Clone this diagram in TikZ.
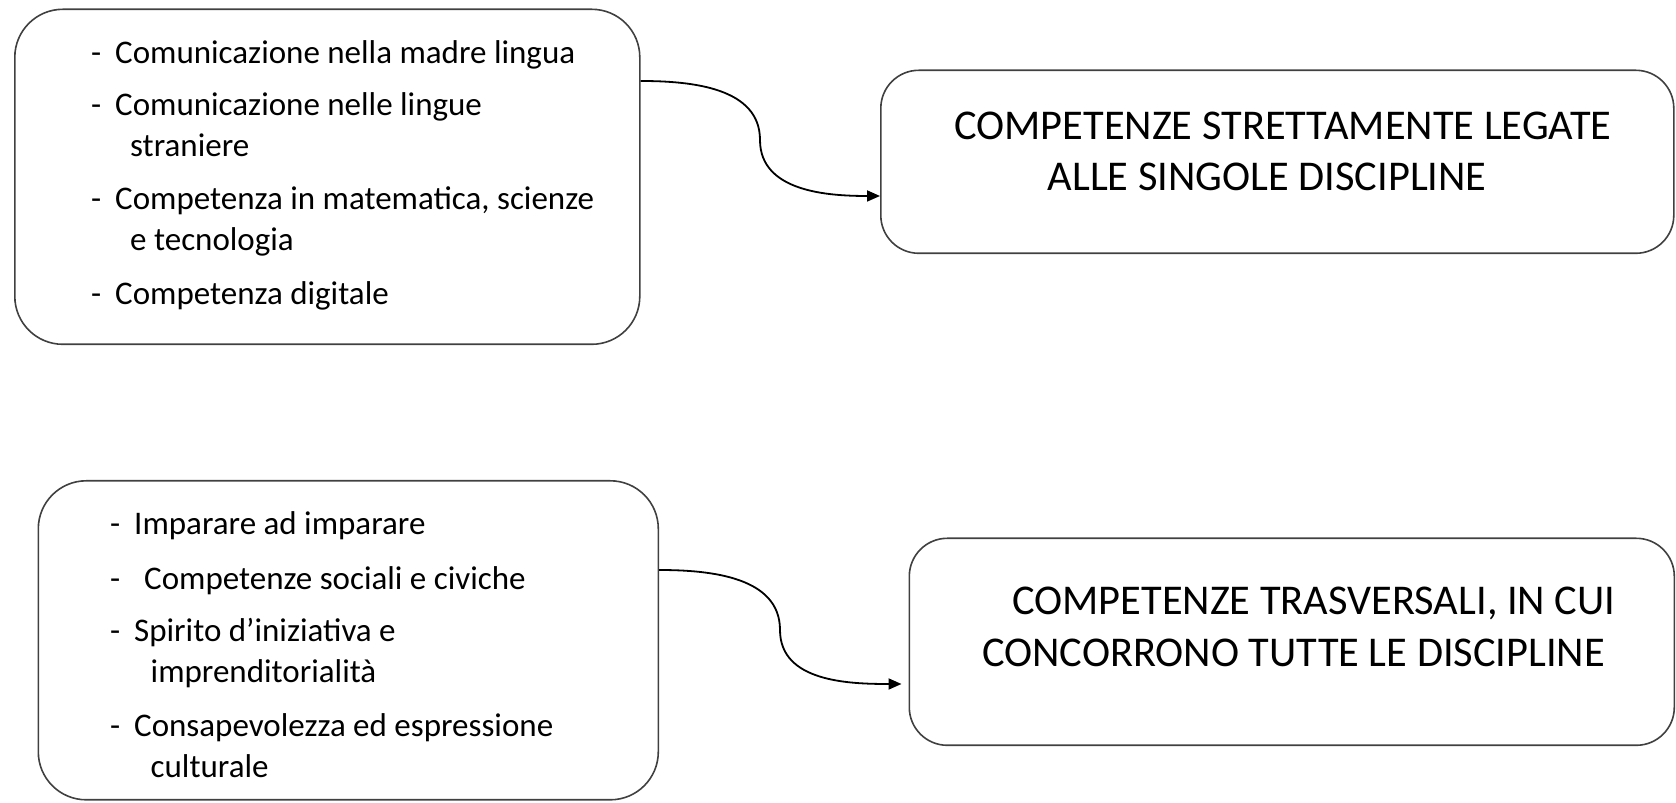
\documentclass[tikz,border=0pt]{standalone}
\usepackage{fontspec}
\setmainfont{Carlito}
\usetikzlibrary{arrows.meta}
\tikzset{
  box/.style={draw=black!75, line width=1.6pt, anchor=north west, inner sep=0pt},
  item/.style={anchor=base west, inner sep=0pt, font=\fontsize{33pt}{36pt}\selectfont},
  captext/.style={anchor=base west, inner sep=0pt, font=\fontsize{42.4pt}{46pt}\selectfont},
  arr/.style={line width=1.8pt, -{Triangle[length=13pt,width=11pt]}}
}
\newcommand{\dsh}{\makebox[24pt][l]{-}}
\begin{document}
\begin{tikzpicture}[x=1pt,y=1pt]
\useasboundingbox (0,0) rectangle (1676,803);
% boxes
\node[box, rounded corners=48pt, minimum width=625pt, minimum height=335pt] (b1) at (14,794.5) {};
\node[box, rounded corners=38pt, minimum width=793pt, minimum height=183pt] (b2) at (880,733.5) {};
\node[box, rounded corners=48pt, minimum width=620pt, minimum height=319pt] (b3) at (37.5,323) {};
\node[box, rounded corners=38pt, minimum width=765pt, minimum height=207pt] (b4) at (908.5,265.5) {};
% box 1 text
\node[item] (t11) at (91,739.5) {\dsh Comunicazione nella madre lingua};
\node[item] (t12) at (91,687) {\dsh Comunicazione nelle lingue};
\node[item] (t13) at (130,646.5) {straniere};
\node[item] (t14) at (91,593) {\dsh Competenza in matematica, scienze};
\node[item] (t15) at (130,552.5) {e tecnologia};
\node[item] (t16) at (91,498) {\dsh Competenza digitale};
% box 3 text
\node[item] (t31) at (110,268) {\dsh Imparare ad imparare};
\node[item] (t32) at (110,213.5) {\makebox[34pt][l]{-}Competenze sociali e civiche};
\node[item] (t33) at (110,161) {\dsh Spirito d’iniziativa e};
\node[item] (t34) at (150.5,120.5) {imprenditorialità};
\node[item] (t35) at (110,66) {\dsh Consapevolezza ed espressione};
\node[item] (t36) at (150.5,25.5) {culturale};
% box 2 text
\node[captext] (t21) at (954,663.8) {COMPETENZE STRETTAMENTE LEGATE};
\node[captext] (t22) at (1047.5,612.3) {ALLE SINGOLE DISCIPLINE};
% box 4 text
\node[captext] (t41) at (1012,188) {COMPETENZE TRASVERSALI, IN CUI};
\node[captext] (t42) at (982,136.8) {CONCORRONO TUTTE LE DISCIPLINE};
% connectors
\coordinate (m1) at (760,663);
\coordinate (m2) at (780,173);
\draw[arr] (b1.east |- 0,722) to[out=0,in=90] (m1) to[out=-90,in=180] (b2.west |- 0,607);
\draw[arr] (b3.east |- 0,233) to[out=0,in=90] (m2) to[out=-90,in=180] ([xshift=-7pt]b4.west |- 0,119);
\end{tikzpicture}
\end{document}
